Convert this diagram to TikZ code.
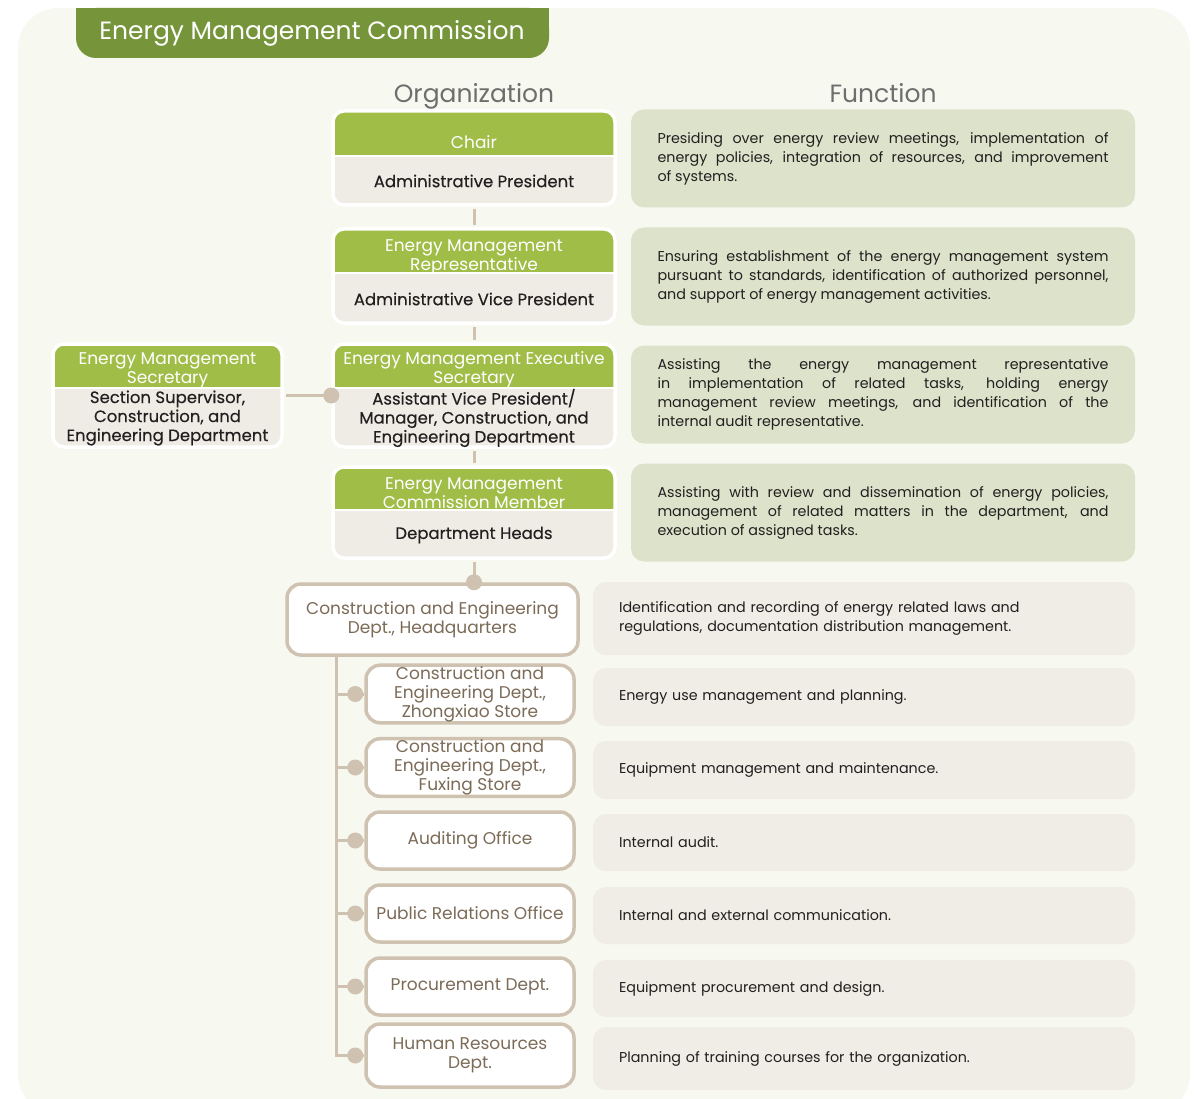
\documentclass[tikz,border=0pt]{standalone}
\usepackage{fontspec}
\setmainfont{Poppins}
\usetikzlibrary{positioning}
\definecolor{pagebg}{HTML}{F7F8F0}
\definecolor{tabgreen}{HTML}{76953A}
\definecolor{hdrgreen}{HTML}{9FBD47}
\definecolor{bodybeige}{HTML}{EFECE6}
\definecolor{funcgreen}{HTML}{DCE3CA}
\definecolor{funcgray}{HTML}{EFEDE6}
\definecolor{linktan}{HTML}{CFC2B1}
\definecolor{unitbrown}{HTML}{7B6B57}
\definecolor{inkdark}{HTML}{231F20}
\definecolor{headgray}{HTML}{6E6E6E}
\begin{document}
\begin{tikzpicture}[
  x=1pt, y=-1pt,
  orgbox/.style={rectangle, rounded corners=11pt, fill=bodybeige, draw=white, line width=3.5pt,
    path picture={
      \fill[hdrgreen, sharp corners] (path picture bounding box.north west) rectangle ([yshift=-#1]path picture bounding box.north east);
      \draw[white, line width=2pt, sharp corners] ([yshift=-#1]path picture bounding box.north west) -- ([yshift=-#1]path picture bounding box.north east);}},
  hdtext/.style={text=white, align=center, font=\fontsize{17}{19}\selectfont},
  bdtext/.style={text=inkdark, align=center, font=\fontsize{16.5}{19}\selectfont\addfontfeature{FakeBold=0.3}},
  colhead/.style={text=headgray, anchor=base, font=\fontsize{25}{28}\selectfont},
  funcbox/.style={rectangle, rounded corners=13pt, fill=funcgreen, minimum width=504pt, text width=451pt,
    align=justify, text=inkdark, font=\fontsize{14.3}{19}\selectfont},
  dutybox/.style={rectangle, rounded corners=13pt, fill=funcgray, minimum width=542pt, text width=490pt,
    align=left, text=inkdark, font=\fontsize{14.3}{19}\selectfont},
  unit/.style={rectangle, rounded corners=14pt, fill=white, draw=linktan, line width=3.5pt, inner sep=1pt,
    minimum width=208pt, text=unitbrown, align=center, font=\fontsize{17}{19}\selectfont},
  link/.style={draw=linktan, line width=3pt}
]
\useasboundingbox (0,0) rectangle (1198,1099);
\fill[pagebg, rounded corners=40pt] (18,8) rectangle (1190,1114);
\fill[tabgreen, rounded corners=20pt] (76,8) rectangle (549,58);
\fill[tabgreen] (76,8) rectangle (549,35);
\node[text=white, font=\fontsize{25}{30}\selectfont] (title) at (312,33.5) {Energy Management Commission};

\node[colhead] (orghead) at (474,103) {Organization};
\node[colhead] (funchead) at (883,103) {Function};

\node[orgbox=45pt, minimum width=282pt, minimum height=94pt] (chair) at (474,158) {};
\node[orgbox=44pt, minimum width=282pt, minimum height=94pt] (rep) at (474,276) {};
\node[orgbox=44pt, minimum width=282pt, minimum height=103pt] (exec) at (474,395.5) {};
\node[orgbox=43pt, minimum width=282pt, minimum height=91pt] (member) at (474,512.5) {};
\node[orgbox=44pt, minimum width=229pt, minimum height=103pt] (secr) at (167.5,395.5) {};

\node[hdtext] (chairhd) at (474,142.5) {Chair};
\node[bdtext] (chairbd) at (474,181) {Administrative President};
\node[hdtext] (rephd) at (474,257.5) {Energy Management\\Representative};
\node[bdtext] (repbd) at (474,299) {Administrative Vice President};
\node[hdtext] (exechd) at (474,370) {Energy Management Executive\\Secretary};
\node[bdtext] (execbd) at (474,418) {Assistant Vice President/\\Manager, Construction, and\\Engineering Department};
\node[hdtext] (memberhd) at (474,493) {Energy Management\\Commission Member};
\node[bdtext] (memberbd) at (474,535) {Department Heads};
\node[hdtext] (secrhd) at (167.5,370) {Energy Management\\Secretary};
\node[bdtext] (secrbd) at (167.5,418) {Section Supervisor,\\Construction, and\\Engineering Department};

\node[funcbox, minimum height=98pt] (f1) at (883,158.5) {Presiding over energy review meetings, implementation of\linebreak energy policies, integration of resources, and improvement\linebreak of systems.};
\node[funcbox, minimum height=98pt] (f2) at (883,276.5) {Ensuring establishment of the energy management system\linebreak pursuant to standards, identification of authorized personnel,\linebreak and support of energy management activities.};
\node[funcbox, minimum height=98pt] (f3) at (883,394.5) {Assisting the energy management representative\linebreak in implementation of related tasks, holding energy\linebreak management review meetings, and identification of the\linebreak internal audit representative.};
\node[funcbox, minimum height=98pt] (f4) at (883,512.5) {Assisting with review and dissemination of energy policies,\linebreak management of related matters in the department, and\linebreak execution of assigned tasks.};

\node[dutybox, minimum height=73pt] (d1) at (864,618.5) {Identification and recording of energy related laws and\\regulations, documentation distribution management.};
\node[dutybox, minimum height=58pt] (d2) at (864,697) {Energy use management and planning.};
\node[dutybox, minimum height=58pt] (d3) at (864,770) {Equipment management and maintenance.};
\node[dutybox, minimum height=57pt] (d4) at (864,842.5) {Internal audit.};
\node[dutybox, minimum height=57pt] (d5) at (864,915.5) {Internal and external communication.};
\node[dutybox, minimum height=57pt] (d6) at (864,988.5) {Equipment procurement and design.};
\node[dutybox, minimum height=63pt] (d7) at (864,1058.5) {Planning of training courses for the organization.};

\node[unit, minimum width=291pt, minimum height=71pt] (hq) at (432.5,619.5) {Construction and Engineering\\Dept., Headquarters};
\node[unit, minimum height=56pt] (zhongxiao) at (470,694) {Construction and\\Engineering Dept.,\\Zhongxiao Store};
\node[unit, minimum height=57pt] (fuxing) at (470,767.5) {Construction and\\Engineering Dept.,\\Fuxing Store};
\node[unit, minimum height=57pt] (audit) at (470,840.5) {Auditing Office};
\node[unit, minimum height=57pt] (pr) at (470,913.5) {Public Relations Office};
\node[unit, minimum height=57pt] (procure) at (470,986.5) {Procurement Dept.};
\node[unit, minimum height=63pt] (hr) at (470,1055.5) {Human Resources\\Dept.};

\draw[link, shorten <=2pt, shorten >=2pt] (chair) -- (rep);
\draw[link, shorten <=2pt, shorten >=2pt] (rep) -- (exec);
\draw[link, shorten <=2pt, shorten >=2pt] (exec) -- (member);
\draw[link, shorten <=2pt] (secr) -- (exec);
\fill[linktan] (exec.west) circle (8pt);
\draw[link, shorten <=2pt] (member) -- (member.south |- hq.north);
\fill[linktan] (member.south |- hq.north) circle (8pt);

\coordinate (trunk) at ([xshift=51pt]hq.south west);
\draw[link] (trunk) |- (hr.west);
\foreach \u in {zhongxiao,fuxing,audit,pr,procure}
  \draw[link] (trunk |- \u.west) -- (\u.west);
\foreach \u in {zhongxiao,fuxing,audit,pr,procure,hr}
  \fill[linktan] ([xshift=-9pt]\u.west) circle (8pt);
\end{tikzpicture}
\end{document}
